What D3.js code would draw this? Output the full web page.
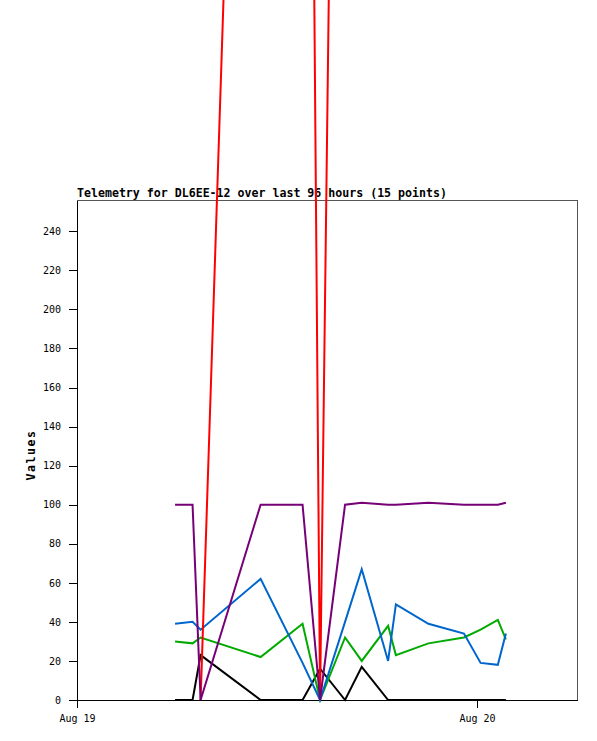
<!DOCTYPE html>
<html>
<head>
<meta charset="utf-8">
<script src="https://cdn.jsdelivr.net/npm/d3@7"></script>
<style>
  body { margin: 0; background: #fff; }
  svg { display: block; }
  .tick text { font-family: "DejaVu Sans Mono", monospace; font-size: 10px; fill: #000; }
  .title, .ylabel { font-family: "DejaVu Sans Mono", monospace; font-size: 11.6px; font-weight: bold; }
  .ylabel { letter-spacing: 1.5px; }
</style>
</head>
<body>
<svg id="chart" width="597" height="741"></svg>
<script>
const margin = { left: 77, right: 20, top: 200, bottom: 41 };
const width = 597 - margin.left - margin.right;
const height = 741 - margin.top - margin.bottom;

const title = 'Telemetry for DL6EE-12 over last 96 hours (15 points)';
const yLabel = 'Values';

// sample times (15 points)
var times = [
    '2023-08-19 05:53', '2023-08-19 06:56', '2023-08-19 07:25', '2023-08-19 11:01',
    '2023-08-19 13:32', '2023-08-19 14:35', '2023-08-19 16:05', '2023-08-19 17:05',
    '2023-08-19 18:40', '2023-08-19 19:08', '2023-08-19 21:05', '2023-08-19 23:13',
    '2023-08-20 00:13', '2023-08-20 01:15', '2023-08-20 01:44'
];

// one array per channel
var blackValues  = [0, 0, 23, 0, 0, 16, 0, 17, 0, 0, 0, 0, 0, 0, 0];
var greenValues  = [30, 29, 32, 22, 39, 0, 32, 20, 38, 23, 29, 32, 36, 41, 31];
var blueValues   = [39, 40, 36, 62, 19, 0, 40, 67, 20, 49, 39, 34, 19, 18, 34];
var redValues    = [null, null, 0, 940, 1090, 0, 1030, 1010, 990, 1000, 1020, 995, 1005, 1000, 1010];
var purpleValues = [100, 100, 0, 100, 100, 0, 100, 101, 100, 100, 101, 100, 100, 100, 101];

var xTicks = ['2023-08-19 00:00', '2023-08-20 00:00'];
var yTicks = [0, 20, 40, 60, 80, 100, 120, 140, 160, 180, 200, 220, 240];

const parseTime = d3.timeParse('%Y-%m-%d %H:%M');
const fmt = d3.timeFormat('%b %d');

const svg = d3.select('#chart');

var x = d3.scaleTime()
    .domain([parseTime('2023-08-19 00:00'), parseTime('2023-08-20 06:00')])
    .range([margin.left, margin.left + width]);

var y = d3.scaleLinear()
    .domain([0, 256])
    .range([margin.top + height, margin.top]);

// frame (top + right are grey)
svg.append('rect')
    .attr('x', margin.left + 0.5)
    .attr('y', margin.top + 0.5)
    .attr('width', width)
    .attr('height', height)
    .attr('fill', 'none')
    .attr('stroke', '#555')
    .attr('shape-rendering', 'crispEdges');

svg.append('g')
    .attr('class', 'y axis')
    .attr('transform', 'translate(' + margin.left + ',0)')
    .call(d3.axisLeft(y).tickValues(yTicks).tickSize(8).tickSizeOuter(0).tickPadding(8))
    .call(g => g.selectAll('path, line').attr('stroke', '#000').attr('shape-rendering', 'crispEdges'));

svg.append('g')
    .attr('class', 'x axis')
    .attr('transform', 'translate(0,' + (margin.top + height) + ')')
    .call(d3.axisBottom(x).tickValues(xTicks.map(parseTime)).tickFormat(fmt).tickSize(8).tickSizeOuter(0).tickPadding(7))
    .call(g => g.selectAll('path, line').attr('stroke', '#000').attr('shape-rendering', 'crispEdges'));

svg.selectAll('.tick text').attr('fill', '#000');

svg.append('text')
    .attr('class', 'title')
    .attr('x', margin.left)
    .attr('y', margin.top - 3.5)
    .text(title);

svg.append('text')
    .attr('class', 'ylabel')
    .attr('text-anchor', 'middle')
    .attr('transform', 'translate(35,455) rotate(-90)')
    .text(yLabel);

var line = d3.line()
    .defined(d => d.y != null)
    .x(d => x(d.x))
    .y(d => y(d.y));

drawSeries(blackValues, '#000000');
drawSeries(greenValues, '#00aa00');
drawSeries(blueValues, '#0066cc');
drawSeries(redValues, '#ff0000');
drawSeries(purpleValues, '#770077');

function drawSeries(values, color) {
    var data = times.map((t, i) => ({ x: parseTime(t), y: values[i] }));
    svg.append('path')
        .attr('d', line(data))
        .attr('stroke', color)
        .attr('stroke-width', 2)
        .attr('fill', 'none');
}
</script>
</body>
</html>
